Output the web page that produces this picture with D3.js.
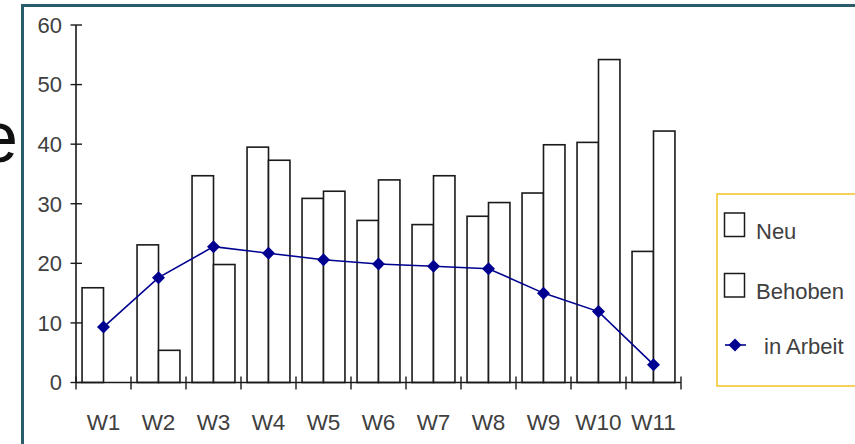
<!DOCTYPE html>
<html><head><meta charset="utf-8">
<script src="https://cdnjs.cloudflare.com/ajax/libs/d3/7.8.5/d3.min.js"></script>
<style>html,body{margin:0;padding:0;background:#fff;}svg{display:block;}</style>
</head><body><div id="chart"></div>
<script>
const categories = ["W1","W2","W3","W4","W5","W6","W7","W8","W9","W10","W11"];
const neu      = [15.9, 23.1, 34.7, 39.5, 30.9, 27.2, 26.5, 27.9, 31.8, 40.3, 22.0];
const behoben  = [0,    5.4, 19.8, 37.3, 32.1, 34.0, 34.7, 30.2, 39.9, 54.2, 42.2];
const inArbeit = [9.3, 17.6, 22.8, 21.7, 20.6, 19.9, 19.5, 19.1, 15.0, 11.9, 3.0];
const yTicks = [0,10,20,30,40,50,60];
const seriesNames = ["Neu","Behoben","in Arbeit"];

const W = 855, H = 444;
const svg = d3.select("#chart").append("svg").attr("width", W).attr("height", H);
const font = "'Liberation Sans', Arial, sans-serif";
const txtCol = "#404040";

// frame
svg.append("rect").attr("x",21).attr("y",4).attr("width",W-21).attr("height",3).attr("fill","#2b5c6b");
svg.append("rect").attr("x",21).attr("y",4).attr("width",3).attr("height",H-4).attr("fill","#2b5c6b");
// cut-off title letter
svg.append("text").attr("x",18).attr("y",162).attr("text-anchor","end")
  .attr("font-family",font).attr("font-size",72).attr("fill","#111").text("e");

const x = d3.scaleBand().domain(categories).range([76, 681]).padding(0);
const y = d3.scaleLinear().domain([0,60]).range([382.5, 25]);
const bw = x.bandwidth();
const barW = bw * 0.39;

const g = svg.append("g");
const neuData = categories.map((c,i) => ({c, v: neu[i]}));
const behData = categories.map((c,i) => ({c, v: behoben[i]})).filter(d => d.v > 0);
// bars
g.selectAll("rect.neu").data(neuData).join("rect")
  .attr("x", d => x(d.c) + bw/2 - barW)
  .attr("y", d => y(d.v))
  .attr("width", barW)
  .attr("height", d => y(0) - y(d.v))
  .attr("fill","#fff").attr("stroke","#1a1a1a").attr("stroke-width",1.6);
g.selectAll("rect.beh").data(behData).join("rect")
  .attr("x", d => x(d.c) + bw/2)
  .attr("y", d => y(d.v))
  .attr("width", barW)
  .attr("height", d => y(0) - y(d.v))
  .attr("fill","#fff").attr("stroke","#1a1a1a").attr("stroke-width",1.6);

// axes
const axisCol = "#1a1a1a";
g.append("line").attr("x1",76).attr("x2",76).attr("y1",y(60)).attr("y2",y(0))
  .attr("stroke",axisCol).attr("stroke-width",1.6);
g.append("line").attr("x1",76).attr("x2",681).attr("y1",y(0)).attr("y2",y(0))
  .attr("stroke",axisCol).attr("stroke-width",1.6);
yTicks.forEach(t => {
  g.append("line").attr("x1",70.5).attr("x2",82).attr("y1",y(t)).attr("y2",y(t))
    .attr("stroke",axisCol).attr("stroke-width",1.4);
  g.append("text").attr("x",62).attr("y",y(t)+7.8).attr("text-anchor","end")
    .attr("font-family",font).attr("font-size",22).attr("fill",txtCol).text(t);
});
const bounds = categories.map(c => x(c)).concat([x.range()[1]]);
bounds.forEach(b => {
  g.append("line").attr("x1",b).attr("x2",b).attr("y1",y(0)-6).attr("y2",y(0)+7)
    .attr("stroke",axisCol).attr("stroke-width",1.4);
});
categories.forEach(c => {
  g.append("text").attr("x", x(c)+bw/2).attr("y",430).attr("text-anchor","middle")
    .attr("font-family",font).attr("font-size",22.5).attr("fill",txtCol).text(c);
});

// line series
const lineCol = "#000090";
const line = d3.line().x((d,i) => x(categories[i]) + bw/2).y(d => y(d));
g.append("path").datum(inArbeit).attr("d", line).attr("fill","none")
  .attr("stroke",lineCol).attr("stroke-width",1.6);
const diamond = (cx, cy, r) => `M${cx},${cy-r}L${cx+r},${cy}L${cx},${cy+r}L${cx-r},${cy}Z`;
g.selectAll("path.pt").data(inArbeit).join("path")
  .attr("d", (d,i) => diamond(x(categories[i]) + bw/2, y(d), 6.5))
  .attr("fill",lineCol);

// legend
const lg = svg.append("g");
lg.append("rect").attr("x",717).attr("y",194).attr("width",160).attr("height",192)
  .attr("fill","#fff").attr("stroke","#f2c832").attr("stroke-width",1.6);
lg.append("rect").attr("x",724.5).attr("y",213).attr("width",20).attr("height",23.5)
  .attr("fill","#fff").attr("stroke","#1a1a1a").attr("stroke-width",1.5);
lg.append("rect").attr("x",724.5).attr("y",273.5).attr("width",20).attr("height",23.5)
  .attr("fill","#fff").attr("stroke","#1a1a1a").attr("stroke-width",1.5);
lg.append("line").attr("x1",725).attr("x2",746).attr("y1",345).attr("y2",345)
  .attr("stroke",lineCol).attr("stroke-width",1.6);
lg.append("path").attr("d", diamond(735, 345, 6.5)).attr("fill",lineCol);
lg.append("text").attr("x",756).attr("y",238.5).attr("font-family",font).attr("font-size",22)
  .attr("fill",txtCol).text(seriesNames[0]);
lg.append("text").attr("x",756).attr("y",299).attr("font-family",font).attr("font-size",22)
  .attr("fill",txtCol).text(seriesNames[1]);
lg.append("text").attr("x",764).attr("y",354).attr("font-family",font).attr("font-size",22)
  .attr("fill",txtCol).text(seriesNames[2]);
</script>
</body></html>
